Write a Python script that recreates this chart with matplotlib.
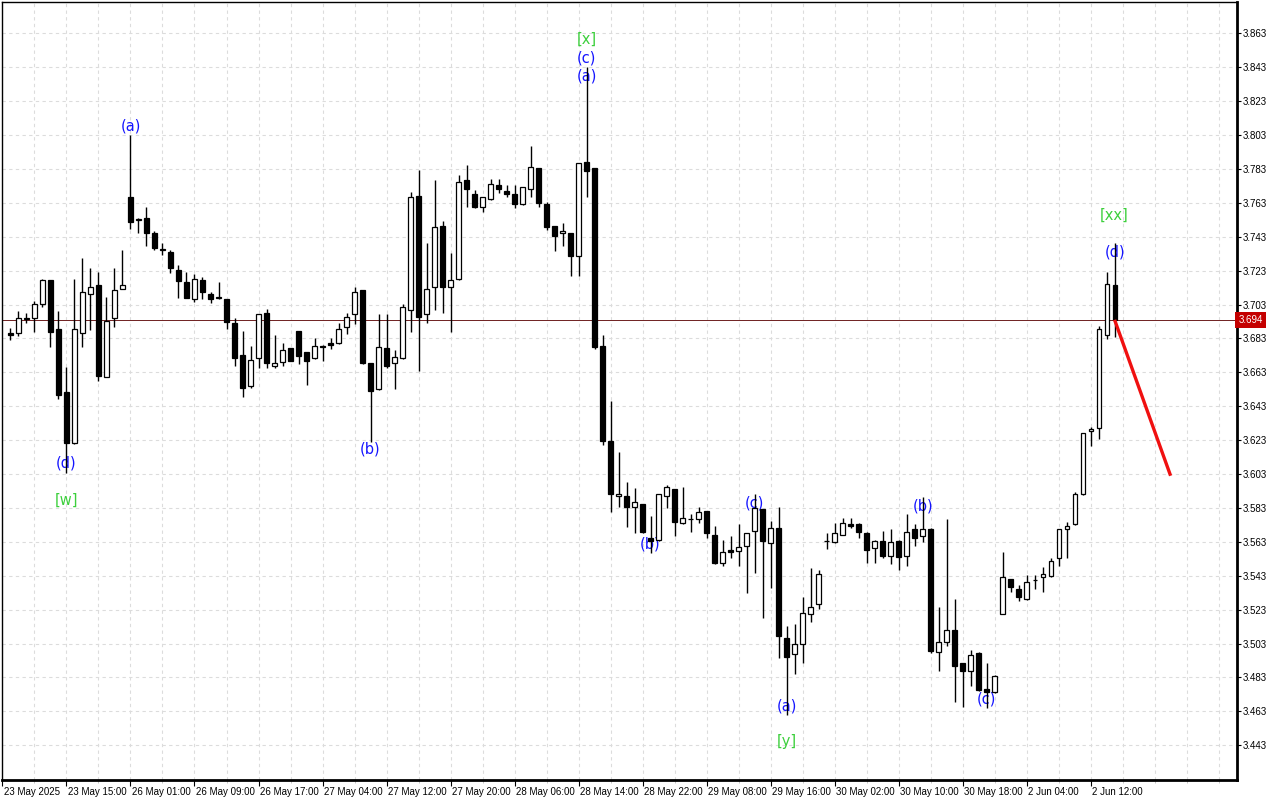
import matplotlib
matplotlib.use("Agg")
import matplotlib.pyplot as plt
import matplotlib.transforms as mtransforms
import numpy as np

# H1 bars, index 1..139 (index 0 sits under the left frame)
first_bar = 1
opens = [3.6860, 3.6860, 3.6947, 3.6949, 3.7031, 3.7174, 3.6886, 3.6512, 3.6211, 3.6860,
         3.7090, 3.7145, 3.6600, 3.6949, 3.7120, 3.7662, 3.7530, 3.7538, 3.7450, 3.7355,
         3.7340, 3.7234, 3.7161, 3.7061, 3.7173, 3.7090, 3.7068, 3.7061, 3.6919, 3.6730,
         3.6551, 3.6713, 3.6978, 3.6669, 3.6689, 3.6772, 3.6874, 3.6748, 3.6713, 3.6787,
         3.6805, 3.6801, 3.6899, 3.6972, 3.7116, 3.6683, 3.6530, 3.6772, 3.6683, 3.6713,
         3.6998, 3.7670, 3.6972, 3.7131, 3.7493, 3.7131, 3.7179, 3.7765, 3.7680, 3.7607,
         3.7651, 3.7735, 3.7701, 3.7680, 3.7621, 3.7710, 3.7834, 3.7623, 3.7493, 3.7450,
         3.7450, 3.7318, 3.7869, 3.7834, 3.6785, 3.6225, 3.5900, 3.5900, 3.5837, 3.5853,
         3.5651, 3.5641, 3.5900, 3.5940, 3.5739, 3.5763, 3.5763, 3.5812, 3.5670, 3.5507,
         3.5582, 3.5578, 3.5605, 3.5694, 3.5822, 3.5621, 3.5710, 3.5061, 3.4968, 3.5025,
         3.5202, 3.5263, 3.5633, 3.5631, 3.5670, 3.5733, 3.5733, 3.5680, 3.5592, 3.5637,
         3.5548, 3.5637, 3.5548, 3.5704, 3.5664, 3.5704, 3.4978, 3.5041, 3.5110, 3.4913,
         3.4870, 3.4972, 3.4760, 3.4742, 3.5204, 3.5409, 3.5350, 3.5291, 3.5403, 3.5421,
         3.5430, 3.5533, 3.5704, 3.5733, 3.5910, 3.6284, 3.6300, 3.6848, 3.7145]
highs = [3.6890, 3.6992, 3.6978, 3.7051, 3.7180, 3.7174, 3.6992, 3.6660, 3.7180, 3.7306,
         3.7247, 3.7220, 3.7073, 3.7244, 3.7352, 3.8030, 3.7538, 3.7603, 3.7464, 3.7391,
         3.7352, 3.7263, 3.7220, 3.7210, 3.7192, 3.7102, 3.7161, 3.7063, 3.6949, 3.6874,
         3.6785, 3.6975, 3.7003, 3.6850, 3.6801, 3.6774, 3.6876, 3.6750, 3.6831, 3.6789,
         3.6831, 3.6919, 3.6982, 3.7135, 3.7118, 3.6685, 3.6974, 3.6974, 3.6762, 3.7033,
         3.7695, 3.7824, 3.7391, 3.7765, 3.7523, 3.7332, 3.7794, 3.7853, 3.7706, 3.7666,
         3.7769, 3.7769, 3.7735, 3.7735, 3.7723, 3.7965, 3.7836, 3.7633, 3.7495, 3.7513,
         3.7452, 3.7865, 3.8433, 3.7836, 3.6850, 3.6461, 3.6162, 3.5985, 3.5945, 3.5855,
         3.5782, 3.5912, 3.5965, 3.5942, 3.5955, 3.5792, 3.5834, 3.5814, 3.5723, 3.5641,
         3.5664, 3.5733, 3.5682, 3.5910, 3.5824, 3.5753, 3.5837, 3.5133, 3.5145, 3.5303,
         3.5474, 3.5464, 3.5680, 3.5739, 3.5769, 3.5769, 3.5739, 3.5690, 3.5639, 3.5694,
         3.5704, 3.5639, 3.5792, 3.5733, 3.5896, 3.5710, 3.5247, 3.5765, 3.5292, 3.4915,
         3.4992, 3.4978, 3.4913, 3.4842, 3.5572, 3.5411, 3.5375, 3.5434, 3.5434, 3.5480,
         3.5532, 3.5706, 3.5749, 3.5922, 3.6272, 3.6309, 3.6903, 3.7220, 3.7391]
lows = [3.6821, 3.6844, 3.6919, 3.6870, 3.7013, 3.6781, 3.6471, 3.6038, 3.6205, 3.6781,
        3.6880, 3.6580, 3.6600, 3.6899, 3.7120, 3.7474, 3.7450, 3.7377, 3.7352, 3.7322,
        3.7218, 3.7070, 3.7068, 3.7047, 3.7061, 3.7041, 3.7061, 3.6884, 3.6669, 3.6483,
        3.6539, 3.6657, 3.6657, 3.6657, 3.6669, 3.6696, 3.6679, 3.6555, 3.6711, 3.6698,
        3.6767, 3.6799, 3.6856, 3.6913, 3.6680, 3.6221, 3.6528, 3.6654, 3.6530, 3.6711,
        3.6870, 3.6639, 3.6919, 3.6998, 3.6978, 3.6870, 3.7175, 3.7607, 3.7601, 3.7577,
        3.7649, 3.7690, 3.7666, 3.7601, 3.7619, 3.7666, 3.7607, 3.7470, 3.7347, 3.7375,
        3.7200, 3.7200, 3.7666, 3.6769, 3.6201, 3.5808, 3.5834, 3.5719, 3.5680, 3.5680,
        3.5562, 3.5635, 3.5831, 3.5666, 3.5737, 3.5690, 3.5739, 3.5651, 3.5499, 3.5489,
        3.5536, 3.5489, 3.5330, 3.5448, 3.5179, 3.5359, 3.4943, 3.4608, 3.4848, 3.4917,
        3.5159, 3.5232, 3.5588, 3.5621, 3.5668, 3.5710, 3.5651, 3.5507, 3.5507, 3.5536,
        3.5499, 3.5464, 3.5489, 3.5608, 3.5631, 3.4972, 3.4870, 3.5017, 3.4687, 3.4657,
        3.4781, 3.4752, 3.4651, 3.4740, 3.5202, 3.5336, 3.5281, 3.5289, 3.5350, 3.5336,
        3.5424, 3.5489, 3.5533, 3.5731, 3.5908, 3.6197, 3.6237, 3.6828, 3.6840]
closes = [3.6853, 3.6949, 3.6951, 3.7031, 3.7174, 3.6870, 3.6496, 3.6211, 3.6884, 3.7102,
          3.7131, 3.6610, 3.6933, 3.7114, 3.7145, 3.7518, 3.7534, 3.7450, 3.7362, 3.7350,
          3.7244, 3.7170, 3.7070, 3.7179, 3.7102, 3.7061, 3.7072, 3.6929, 3.6716, 3.6539,
          3.6703, 3.6972, 3.6683, 3.6683, 3.6760, 3.6698, 3.6728, 3.6698, 3.6787, 3.6781,
          3.6789, 3.6884, 3.6958, 3.7102, 3.6687, 3.6521, 3.6781, 3.6669, 3.6719, 3.7013,
          3.7666, 3.6958, 3.7120, 3.7489, 3.7131, 3.7174, 3.7751, 3.7710, 3.7607, 3.7662,
          3.7739, 3.7710, 3.7680, 3.7621, 3.7721, 3.7839, 3.7631, 3.7489, 3.7436, 3.7464,
          3.7318, 3.7863, 3.7819, 3.6781, 3.6226, 3.5910, 3.5912, 3.5837, 3.5863, 3.5690,
          3.5635, 3.5910, 3.5952, 3.5749, 3.5769, 3.5767, 3.5808, 3.5680, 3.5507, 3.5568,
          3.5568, 3.5601, 3.5680, 3.5828, 3.5637, 3.5710, 3.5074, 3.4949, 3.5025, 3.5208,
          3.5247, 3.5438, 3.5637, 3.5680, 3.5739, 3.5723, 3.5690, 3.5582, 3.5637, 3.5546,
          3.5631, 3.5539, 3.5690, 3.5651, 3.5704, 3.4988, 3.5041, 3.5110, 3.4899, 3.4870,
          3.4962, 3.4756, 3.4742, 3.4840, 3.5421, 3.5362, 3.5303, 3.5391, 3.5407, 3.5438,
          3.5518, 3.5704, 3.5723, 3.5910, 3.6270, 3.6294, 3.6884, 3.7149, 3.6940]

time_labels = ["23 May 2025", "23 May 15:00", "26 May 01:00", "26 May 09:00", "26 May 17:00",
               "27 May 04:00", "27 May 12:00", "27 May 20:00", "28 May 06:00", "28 May 14:00",
               "28 May 22:00", "29 May 08:00", "29 May 16:00", "30 May 02:00", "30 May 10:00",
               "30 May 18:00", "2 Jun 04:00", "2 Jun 12:00"]
price_ticks = [3.443 + 0.02 * k for k in range(22)]

current_price = 3.694
forecast_x = [139, 146]
forecast_y = [3.694, 3.602]

# wave marks: bar index, price, text, degree
wave_bars = [16, 8, 8, 46, 73, 73, 73, 81, 94, 98, 98, 115, 123, 139, 139]
wave_prices = [3.8083, 3.6095, 3.5877, 3.6177, 3.8596, 3.8484, 3.8378, 3.5617,
               3.5859, 3.4662, 3.4450, 3.5842, 3.4703, 3.7558, 3.7340]
wave_texts = ["(a)", "(d)", "[w]", "(b)", "[x]", "(c)", "(a)", "(b)",
              "(c)", "(a)", "[y]", "(b)", "(c)", "[xx]", "(d)"]

BLUE = "#1515ff"
GREEN = "#3ccf3c"


def main():
    o = np.array(opens)
    h = np.array(highs)
    l = np.array(lows)
    c = np.array(closes)
    x = np.arange(first_bar, first_bar + len(o))

    fig = plt.figure(figsize=(12.8, 8), dpi=100)
    ax = fig.add_axes([2 / 1280, 20 / 800, 1235 / 1280, 778 / 800])

    # wicks
    ax.vlines(x, l, h, color="black", linewidth=1.0, zorder=3)

    # bodies
    up = c >= o
    body_h = np.maximum(np.abs(c - o), 0.0002)
    body_b = np.minimum(o, c)
    ax.bar(x[up], body_h[up], bottom=body_b[up], width=0.52,
           facecolor="white", edgecolor="black", linewidth=0.9, zorder=4)
    ax.bar(x[~up], body_h[~up], bottom=body_b[~up], width=0.52,
           facecolor="black", edgecolor="black", linewidth=0.9, zorder=4)

    # wave labels (drawn behind the bars, like the terminal does)
    for xi, yi, t in zip(wave_bars, wave_prices, wave_texts):
        col = GREEN if t.startswith("[") else BLUE
        ax.text(xi, yi, t, color=col, fontsize=10.5, ha="center", va="center",
                family="DejaVu Sans", zorder=2)

    # current price line and forecast
    ax.axhline(current_price, color="#6e2020", linewidth=0.7, zorder=1)
    ax.plot(forecast_x, forecast_y, color="#f01010", linewidth=2.4,
            solid_capstyle="butt", zorder=5)

    ax.set_xlim(-0.06, 154.3)
    ax.set_ylim(3.4225, 3.8815)

    ax.set_xticks(np.arange(0, 8 * len(time_labels), 8))
    ax.set_xticklabels(time_labels)
    ax.set_xticks(np.arange(4, 156, 4), minor=True)
    ax.set_yticks(price_ticks)
    ax.set_yticklabels(["%.3f" % p for p in price_ticks])

    ax.yaxis.tick_right()
    ax.tick_params(axis="y", which="major", direction="out", length=3, width=0.8,
                   labelsize=7, pad=1, colors="black")
    ax.tick_params(axis="x", which="major", direction="out", length=4, width=0.8,
                   labelsize=7, pad=1)
    ax.tick_params(axis="x", which="minor", direction="out", length=2, width=0.6,
                   color="#bbbbbb")
    offset = mtransforms.ScaledTranslation(1 / 72, 0, fig.dpi_scale_trans)
    for lbl in ax.get_xticklabels():
        lbl.set_horizontalalignment("left")
        lbl.set_transform(lbl.get_transform() + offset)
        lbl.set_family("Liberation Sans")
    for lbl in ax.get_yticklabels():
        lbl.set_family("Liberation Sans")

    ax.grid(True, which="both", axis="x", color="#dcdcdc", linestyle=(0, (3, 3)), linewidth=0.8)
    ax.grid(True, which="major", axis="y", color="#dcdcdc", linestyle=(0, (3, 3)), linewidth=0.8)
    ax.set_axisbelow(True)

    for side in ["left", "top"]:
        ax.spines[side].set_linewidth(1.0)
    for side in ["right", "bottom"]:
        ax.spines[side].set_linewidth(2.0)

    # price tag on the scale
    trans = mtransforms.blended_transform_factory(ax.transAxes, ax.transData)
    ax.text(1.001, current_price, "3.694", transform=trans, ha="left", va="center",
            fontsize=7, color="white", family="Liberation Sans", zorder=10,
            bbox=dict(boxstyle="square,pad=0.3", facecolor="#c40000", edgecolor="none"),
            clip_on=False)

    fig.savefig("out.png", dpi=100)
    plt.close(fig)


if __name__ == "__main__":
    main()
